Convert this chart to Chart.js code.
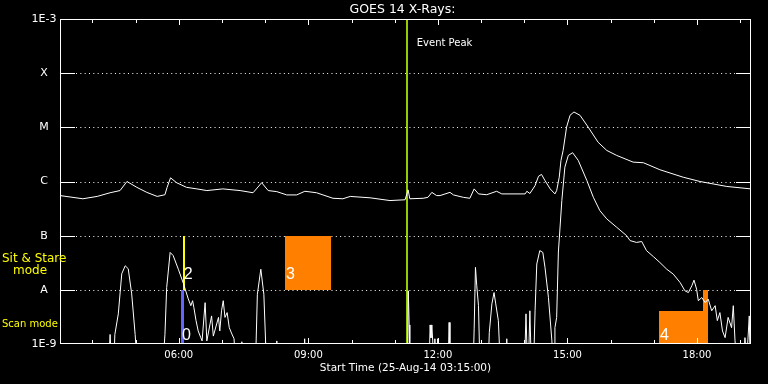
<!DOCTYPE html>
<html lang="en">
<head>
<meta charset="UTF-8">
<title>GOES 14 X-Rays</title>
<script src="https://cdn.jsdelivr.net/npm/chart.js"></script>
<style>
  html, body { margin: 0; padding: 0; background: black; overflow: hidden; }
</style>
</head>
<body>
<canvas id="xray" width="768" height="384"></canvas>
<script>
// time in hours of 25-Aug-14 (UT), flux in W/m^2
const longTimes = [3.25, 3.78, 4.11, 4.41, 4.64, 4.80, 5.03, 5.26, 5.50, 5.68, 5.73, 5.81, 5.95, 6.18, 6.42, 6.65, 7.02, 7.42, 7.72, 7.92,
  8.07, 8.27, 8.50, 8.73, 8.92, 9.19, 9.57, 9.80, 9.97, 10.43, 10.89, 11.24, 11.31, 11.35, 11.66, 11.77, 11.86, 11.97, 12.05, 12.28,
  12.36, 12.59, 12.74, 12.84, 12.94, 13.13, 13.36, 13.48, 14.02, 14.06, 14.13, 14.25, 14.33, 14.40, 14.48, 14.60, 14.71, 14.75, 14.81, 14.85,
  14.90, 14.98, 15.06, 15.15, 15.29, 15.48, 15.71, 15.91, 16.14, 16.52, 16.76, 17.14, 17.68, 18.07, 18.69, 19.25];
const longFlux = [5.5e-7, 4.8e-7, 5.3e-7, 6.2e-7, 6.8e-7, 1.0e-6, 7.8e-7, 6.3e-7, 5.3e-7, 5.7e-7, 7.8e-7, 1.17e-6, 9.5e-7, 7.8e-7, 7.3e-7, 6.8e-7, 7.3e-7, 6.8e-7, 6.2e-7, 9.5e-7,
  6.8e-7, 6.5e-7, 5.65e-7, 5.65e-7, 6.6e-7, 6.2e-7, 4.9e-7, 4.8e-7, 5.3e-7, 5.0e-7, 4.45e-7, 4.6e-7, 7.0e-7, 4.8e-7, 4.9e-7, 5.1e-7, 6.3e-7, 5.5e-7, 5.5e-7, 6.3e-7,
  5.65e-7, 5.1e-7, 4.9e-7, 7.3e-7, 5.9e-7, 5.7e-7, 6.6e-7, 5.9e-7, 5.9e-7, 6.6e-7, 6.0e-7, 8.4e-7, 1.25e-6, 1.35e-6, 1.04e-6, 7.3e-7, 5.9e-7, 6.8e-7, 1.2e-6, 2.45e-6,
  3.75e-6, 1.01e-5, 1.67e-5, 1.92e-5, 1.67e-5, 1.01e-5, 5.3e-6, 3.75e-6, 3.03e-6, 2.28e-6, 2.22e-6, 1.65e-6, 1.2e-6, 1.0e-6, 8.1e-7, 7.3e-7];

const shortTimes = [3.25, 4.38, 4.41, 4.44, 4.50, 4.52, 4.60, 4.68, 4.76, 4.83, 4.91, 4.99, 5.03, 5.64, 5.68, 5.72, 5.80, 5.87, 5.99, 6.11,
  6.22, 6.28, 6.32, 6.35, 6.40, 6.45, 6.51, 6.54, 6.61, 6.65, 6.76, 6.80, 6.92, 6.95, 6.99, 7.03, 7.07, 7.12, 7.17, 7.23,
  7.28, 7.31, 7.45, 7.46, 7.47, 7.78, 7.82, 7.90, 7.97, 8.01, 8.03, 8.26, 8.27, 8.28, 8.90, 8.91, 8.92, 11.30, 11.315, 11.335,
  11.35, 11.80, 11.82, 11.84, 11.86, 11.88, 11.90, 11.92, 11.93, 11.94, 11.98, 11.99, 12.00, 12.24, 12.26, 12.28, 12.82, 12.84, 12.87, 12.90,
  12.94, 12.97, 13.17, 13.19, 13.25, 13.30, 13.34, 13.40, 13.44, 13.58, 13.59, 13.60, 14.01, 14.04, 14.07, 14.10, 14.13, 14.16, 14.22, 14.25,
  14.29, 14.36, 14.43, 14.48, 14.56, 14.64, 14.66, 14.69, 14.71, 14.75, 14.79, 14.87, 14.94, 15.02, 15.12, 15.25, 15.45, 15.60, 15.75, 15.91,
  16.14, 16.37, 16.45, 16.60, 16.72, 16.83, 16.99, 17.14, 17.30, 17.45, 17.61, 17.72, 17.80, 17.88, 17.93, 17.99, 18.03, 18.11, 18.19, 18.26,
  18.34, 18.42, 18.47, 18.53, 18.59, 18.65, 18.72, 18.80, 18.84, 18.88, 18.92, 19.08, 19.11, 19.15, 19.19, 19.21, 19.23, 19.25];
const shortFlux = [5e-10, 5e-10, 1.5e-9, 5e-10, 5e-10, 1.5e-9, 3.6e-9, 1.98e-8, 2.78e-8, 2.45e-8, 8.4e-9, 1.5e-9, 5e-10, 5e-10, 1.5e-9, 1.1e-8, 4.9e-8, 4.3e-8, 2.4e-8, 1.29e-8,
  6.8e-9, 5.1e-9, 6.3e-9, 4.7e-9, 2.7e-9, 1.74e-9, 1.31e-9, 1.14e-9, 5.8e-9, 1.14e-9, 3.3e-9, 1.4e-9, 3.1e-9, 1.74e-9, 4.1e-9, 6.3e-9, 3.1e-9, 3.8e-9, 2.0e-9, 1.53e-9,
  1.25e-9, 5e-10, 5e-10, 1.1e-9, 5e-10, 5e-10, 8.3e-9, 2.4e-8, 8.3e-9, 1.14e-9, 5e-10, 5e-10, 1.14e-9, 5e-10, 5e-10, 1.25e-9, 5e-10, 5e-10, 9.6e-9, 2.25e-9,
  5e-10, 5e-10, 2.25e-9, 1.3e-9, 2.25e-9, 1.14e-9, 5e-10, 5e-10, 1.25e-9, 5e-10, 5e-10, 1.25e-9, 5e-10, 5e-10, 2.5e-9, 5e-10, 5e-10, 1.9e-9, 2.6e-8, 1.19e-8,
  5.1e-9, 5e-10, 5e-10, 1.62e-9, 5.5e-9, 8.9e-9, 5.5e-9, 2.7e-9, 5e-10, 5e-10, 1.25e-9, 5e-10, 5e-10, 3.6e-9, 5e-10, 5e-10, 4.1e-9, 5e-10, 5e-10, 4.1e-9,
  3.0e-8, 5.3e-8, 4.9e-8, 2.6e-8, 7.2e-9, 1.14e-9, 5e-10, 5e-10, 2.0e-9, 3.1e-9, 5e-8, 4.45e-7, 1.84e-6, 3.03e-6, 3.40e-6, 2.45e-6, 1.04e-6, 5.1e-7, 2.9e-7, 2.04e-7,
  1.43e-7, 1.0e-7, 8.1e-8, 7.5e-8, 7.8e-8, 5.3e-8, 4.1e-8, 3.2e-8, 2.4e-8, 1.95e-8, 1.36e-8, 9.6e-9, 8.9e-9, 1.19e-8, 1.51e-8, 1.03e-8, 6.3e-9, 7.2e-9, 5.8e-9, 6.75e-9,
  4.1e-9, 5.1e-9, 2.7e-9, 3.8e-9, 1.74e-9, 1.31e-9, 3.1e-9, 2.0e-9, 5.1e-9, 1.14e-9, 5e-10, 5e-10, 1.31e-9, 5e-10, 1.74e-9, 3.3e-9, 5e-10, 5e-10];

const decades = [1e-9, 1e-8, 1e-7, 1e-6, 1e-5, 1e-4, 1e-3];
const decadeLabels = ['1E-9', 'A', 'B', 'C', 'M', 'X', '1E-3'];
const hourTicks = [4, 5, 6, 7, 8, 9, 10, 11, 12, 13, 14, 15, 16, 17, 18, 19];
const majorHours = [6, 9, 12, 15, 18];
const eventPeak = 11.28;

// observing windows: scan (0), sit & stare (2, 3), scan (4)
const winStart = [6.05, 6.09, 8.46, 17.12, 18.13];
const winEnd = [6.12, 6.15, 9.52, 18.25, 18.25];
const winLow = [1e-9, 1e-8, 1e-8, 1e-9, 4.1e-9];
const winHigh = [1e-8, 1e-7, 1e-7, 4.1e-9, 1e-8];
const winLabels = ['0', '2', '3', '4', ''];
const winLabelFlux = [1.2e-9, 1.6e-8, 1.6e-8, 1.2e-9, 1e-9];
const winColors = ['#6464ff', '#ffff00', '#ff8000', '#ff8000', '#ff8000'];

const FONT = '"DejaVu Sans", sans-serif';

function hhmm(h) { return String(h).padStart(2, '0') + ':00'; }

const goesPlugin = {
  id: 'goes',
  beforeDatasetsDraw(chart) {
    const { ctx, chartArea: a, scales: { x, y } } = chart;
    ctx.save();
    // dotted decade lines
    ctx.strokeStyle = '#fff';
    ctx.lineWidth = 1;
    ctx.setLineDash([1, 3.33]);
    decades.slice(1, -1).forEach(v => {
      const py = Math.round(y.getPixelForValue(v)) + 0.5;
      ctx.beginPath(); ctx.moveTo(a.left + 16, py); ctx.lineTo(a.right - 16, py); ctx.stroke();
    });
    ctx.setLineDash([]);
    // observing windows
    winStart.forEach((s, i) => {
      const x0 = Math.round(x.getPixelForValue(s)), x1 = Math.round(x.getPixelForValue(winEnd[i]));
      const y0 = Math.round(y.getPixelForValue(winHigh[i])), y1 = Math.round(y.getPixelForValue(winLow[i]));
      ctx.fillStyle = winColors[i];
      ctx.fillRect(x0, y0, Math.max(x1 - x0, 2), y1 - y0);
    });
    // event peak
    const ex = Math.round(x.getPixelForValue(eventPeak));
    ctx.fillStyle = '#99cc00';
    ctx.fillRect(ex - 1, a.top, 2, a.bottom - a.top);
    ctx.restore();
  },
  afterDatasetsDraw(chart) {
    const { ctx, chartArea: a, scales: { x, y } } = chart;
    ctx.save();
    ctx.strokeStyle = '#fff';
    ctx.lineWidth = 1;
    ctx.strokeRect(a.left + 0.5, a.top + 0.5, a.right - a.left - 1, a.bottom - a.top - 1);
    ctx.beginPath();
    decades.slice(1, -1).forEach(v => {
      const py = Math.round(y.getPixelForValue(v)) + 0.5;
      ctx.moveTo(a.left, py); ctx.lineTo(a.left + 15, py);
      ctx.moveTo(a.right - 15, py); ctx.lineTo(a.right, py);
    });
    hourTicks.forEach(h => {
      const px = Math.round(x.getPixelForValue(h)) + 0.5;
      const len = majorHours.includes(h) ? 6 : 4;
      ctx.moveTo(px, a.top); ctx.lineTo(px, a.top + len);
      ctx.moveTo(px, a.bottom); ctx.lineTo(px, a.bottom - len);
    });
    ctx.stroke();

    // window numbers
    ctx.fillStyle = '#fff';
    ctx.font = '16px "Liberation Sans", sans-serif';
    ctx.textBaseline = 'alphabetic';
    ctx.textAlign = 'left';
    winLabels.forEach((t, i) => {
      if (!t) return;
      ctx.fillText(t, x.getPixelForValue(winStart[i]) + 1, y.getPixelForValue(winLabelFlux[i]));
    });
    ctx.restore();
  },
  afterDraw(chart) {
    const { ctx, chartArea: a, scales: { x, y } } = chart;
    const cx = (a.left + a.right) / 2;
    ctx.save();
    ctx.fillStyle = '#fff';
    ctx.textBaseline = 'middle';
    ctx.textAlign = 'center';
    ctx.font = '12.5px ' + FONT;
    ctx.fillText('GOES 14 X-Rays:', cx - 3, 10);
    ctx.font = '11px ' + FONT;
    decades.forEach((v, i) => ctx.fillText(decadeLabels[i], 44, y.getPixelForValue(v)));
    ctx.font = '10px ' + FONT;
    majorHours.forEach(h => ctx.fillText(hhmm(h), x.getPixelForValue(h), 355));
    ctx.font = '10.5px ' + FONT;
    ctx.fillText('Start Time (25-Aug-14 03:15:00)', cx, 368.5);
    ctx.textAlign = 'left';
    ctx.font = '10px ' + FONT;
    ctx.fillText('Event Peak', x.getPixelForValue(eventPeak) + 10, 43);
    ctx.fillStyle = '#ffff00';
    ctx.font = '12px ' + FONT;
    ctx.fillText('Sit & Stare', 2, 259);
    ctx.fillText('mode', 13, 271);
    ctx.font = '10px ' + FONT;
    ctx.fillText('Scan mode', 2, 324.5);
    ctx.restore();
  }
};

const toPoints = (ts, fs) => ts.map((t, i) => ({ x: t, y: fs[i] }));

new Chart(document.getElementById('xray'), {
  type: 'line',
  data: {
    datasets: [
      { label: '1.0-8.0 A', data: toPoints(longTimes, longFlux), borderColor: '#fff', borderWidth: 1, pointRadius: 0, tension: 0 },
      { label: '0.5-4.0 A', data: toPoints(shortTimes, shortFlux), borderColor: '#fff', borderWidth: 1, pointRadius: 0, tension: 0 }
    ]
  },
  options: {
    responsive: false,
    animation: false,
    devicePixelRatio: 1,
    layout: { padding: { left: 60, right: 17, top: 19, bottom: 40 } },
    scales: {
      x: { type: 'linear', min: 3.25, max: 19.25, display: false },
      y: { type: 'logarithmic', min: 1e-9, max: 1e-3, display: false }
    },
    plugins: { legend: { display: false }, tooltip: { enabled: false } }
  },
  plugins: [goesPlugin]
});
</script>
</body>
</html>
